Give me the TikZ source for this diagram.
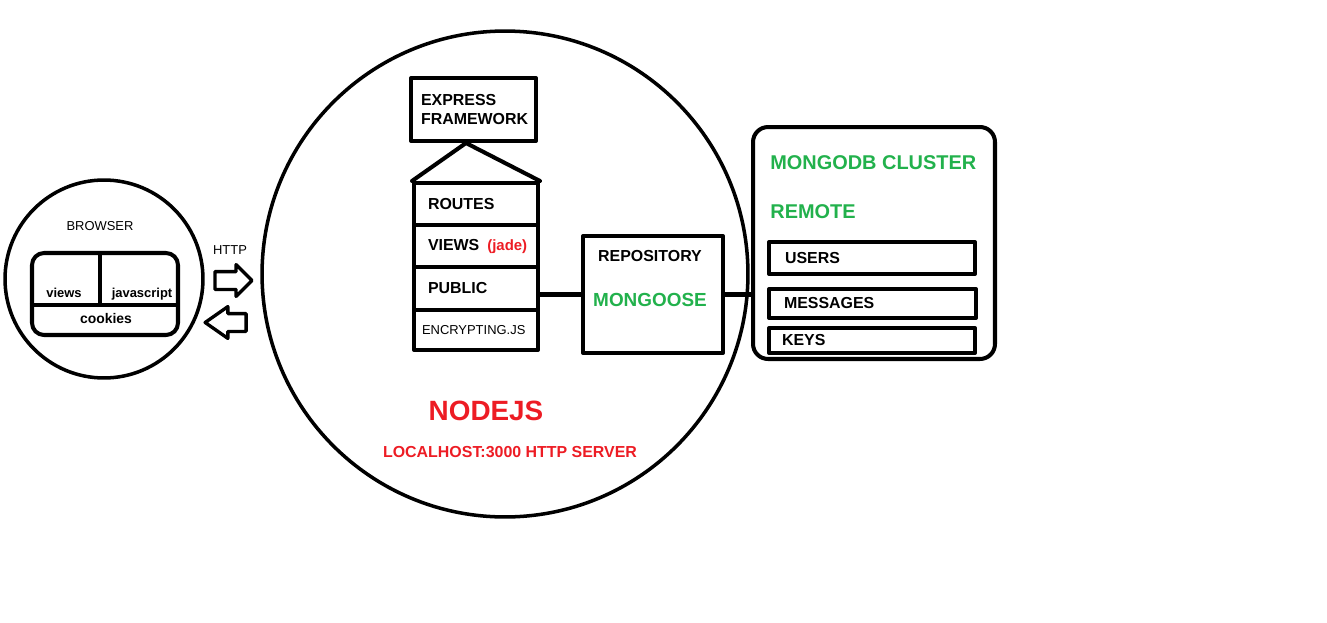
\documentclass[tikz,border=0pt]{standalone}
\usepackage{fontspec}
\setmainfont{Liberation Sans}
\usetikzlibrary{shapes.arrows}
\definecolor{paintgreen}{RGB}{34,177,76}
\definecolor{paintred}{RGB}{237,28,36}
\begin{document}
\begin{tikzpicture}[x=0.02cm, y=-0.02cm, line join=round, line cap=round,
		boxline/.style={line width=2.3pt},
		ring/.style={circle, draw, line width=2pt, inner sep=0pt},
		stackbox/.style={draw, boxline, inner xsep=0.28cm, inner ysep=0pt, text width=1.92cm, align=left, font=\bfseries\fontsize{9.07}{10.8}\selectfont},
		rowbox/.style={draw, boxline, inner xsep=0.32cm, inner ysep=0pt, text width=3.48cm, align=left, font=\bfseries\fontsize{9.07}{10.8}\selectfont},
		blockarrow/.style={single arrow, draw, line width=1.9pt, inner xsep=0pt, inner ysep=0.145cm, single arrow head extend=0.14cm, single arrow tip angle=90},
		small/.style={font=\fontsize{7.37}{8.8}\selectfont, inner sep=0pt},
		smallb/.style={font=\bfseries\fontsize{7.37}{8.8}\selectfont, inner sep=0pt},
		mid/.style={font=\bfseries\fontsize{9.07}{10.8}\selectfont, inner sep=0pt},
		big/.style={font=\bfseries\fontsize{11.34}{13.6}\selectfont, inner sep=0pt, text=paintgreen}]
	\useasboundingbox (0,0) rectangle (1327,622);
	% browser
	\node[ring, minimum size=3.96cm] (browser) at (104,279) {};
	\node[small] (browserlbl) at (100,226) {BROWSER};
	\node[draw, boxline, rounded corners=0.24cm, minimum width=2.92cm, minimum height=1.64cm] (bwin) at (105,294) {};
	\coordinate (split) at (100,305);
	\draw[boxline, line cap=butt] (bwin.west |- split) -- (bwin.east |- split);
	\draw[boxline, line cap=butt] (split) -- (split |- bwin.north);
	\node[smallb, anchor=base] (viewslbl) at (64,297) {views};
	\node[smallb, anchor=base] (jslbl) at (142,297) {javascript};
	\node[smallb, anchor=base, font=\bfseries\fontsize{7.94}{9.5}\selectfont] (cookieslbl) at (106,323) {cookies};
	% http arrows
	\node[small] (httplbl) at (230,250) {HTTP};
	\node[blockarrow, minimum height=0.74cm] (req) at (229,280.5) {};
	\node[blockarrow, shape border rotate=180, minimum height=0.82cm, single arrow tip angle=70] (resp) at (232,322.5) {};
	% nodejs server
	\node[ring, minimum size=9.72cm] (server) at (505,274) {};
	\node[draw, boxline, inner xsep=0.2cm, text width=2.1cm, minimum height=1.26cm, align=left, font=\bfseries\fontsize{9.07}{10.8}\selectfont] (express) at (473.5,109.5) {EXPRESS\\FRAMEWORK};
	\node[stackbox, minimum height=0.84cm] (routes) at (476,204) {ROUTES};
	\node[stackbox, minimum height=0.84cm] (views) at (476,246) {\makebox[0pt][l]{VIEWS\hspace{0.16cm}{\color{paintred}\fontsize{8.5}{10}\selectfont(jade)}}};
	\node[stackbox, minimum height=0.86cm] (public) at (476,288.5) {PUBLIC};
	\node[stackbox, minimum height=0.8cm, inner xsep=0.16cm, text width=2.16cm, font=\fontsize{7.37}{8.8}\selectfont] (encrypt) at (476,330) {ENCRYPTING.JS};
	\draw[boxline] (routes.north west) -- ([xshift=-0.15cm]express.south) -- (routes.north east);
	\node[draw, boxline, minimum width=2.8cm, minimum height=2.34cm] (repo) at (653,294.5) {};
	\node[mid] (repolbl) at (650,256) {REPOSITORY};
	\node[big, font=\bfseries\fontsize{10.77}{13}\selectfont] (mongooselbl) at (650,300) {MONGOOSE};
	\draw[boxline] ([yshift=-0.12cm]public.east) -- ([yshift=-0.12cm]public.east -| repo.west);
	\node[font=\bfseries\fontsize{15.87}{19}\selectfont, text=paintred, inner sep=0pt] (nodejslbl) at (486,411) {NODEJS};
	\node[mid, text=paintred] (hostlbl) at (510,452) {LOCALHOST:3000 HTTP SERVER};
	% mongodb cluster
	\node[draw, boxline, rounded corners=0.3cm, minimum width=4.84cm, minimum height=4.64cm] (cluster) at (874,243) {};
	\node[big, anchor=west] (clusterlbl) at (770,163) {MONGODB CLUSTER};
	\node[big, anchor=west] (remotelbl) at (770,212) {REMOTE};
	\node[rowbox, minimum height=0.64cm] (users) at (872,258) {USERS};
	\node[rowbox, minimum height=0.58cm, inner xsep=0.3cm, text width=3.54cm] (messages) at (872.5,303.5) {MESSAGES};
	\node[rowbox, minimum height=0.5cm, inner xsep=0.26cm, text width=3.6cm] (keys) at (872,340.5) {KEYS};
	\draw[boxline] (repo.east) -- (repo.east -| cluster.west);
\end{tikzpicture}
\end{document}
